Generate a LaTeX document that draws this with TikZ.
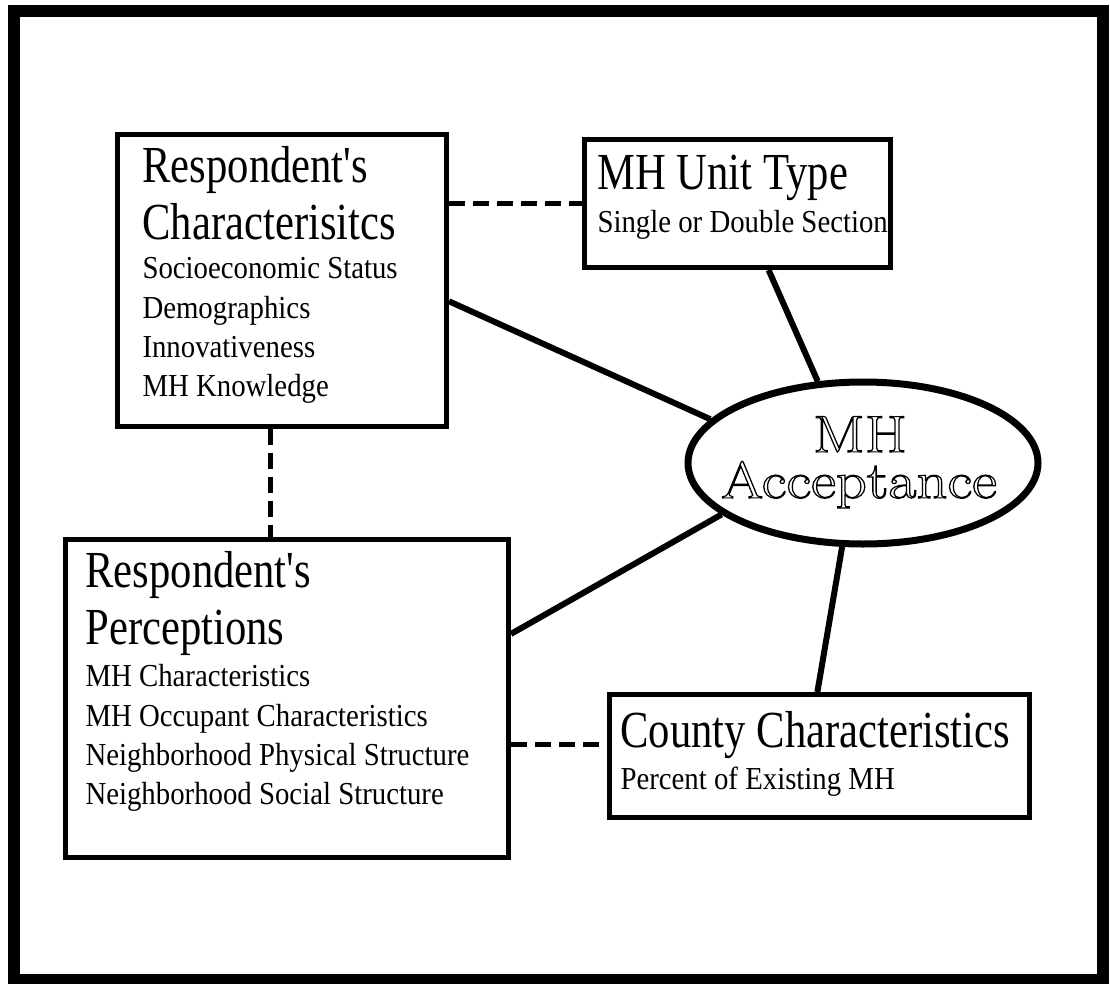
\documentclass[tikz,border=0pt]{standalone}
\usepackage{fontspec}
\usetikzlibrary{shapes.geometric,calc}
\newfontfamily\ttlfont[FakeStretch=0.82]{Liberation Serif}
\newfontfamily\subfont[FakeStretch=0.9]{Liberation Serif}
\newcommand\ttl[1]{{\ttlfont\fontsize{52pt}{57pt}\selectfont #1\par}}
\newcommand\subl[1]{{\subfont\fontsize{32pt}{39.3pt}\selectfont #1\par}}
\newcommand\boxtext[4]{\parbox[c][#2][t]{#1}{\leftskip=#3\relax\rightskip=0pt plus 1fil\parskip=0pt\hbadness=10000\hfuzz=200pt #4}}
\newcommand\outl[1]{\hbox to 0pt{\hss\scalebox{1.17}[1]{\special{pdf:literal direct q 1 Tr 1.1 w 0 G}#1\special{pdf:literal direct Q 0 Tr}}\hss}}
\tikzset{
  box/.style={draw, line width=5pt, inner sep=0pt, anchor=north west},
  link/.style={line width=6pt},
  dashlink/.style={line width=4.5pt, dash pattern=on 16pt off 8pt},
  oval/.style={ellipse, draw, line width=7pt, minimum width=350pt, minimum height=162pt, inner sep=0pt},
}
\begin{document}
\begin{tikzpicture}[x=1pt,y=-1pt]
\useasboundingbox (0,0) rectangle (1110,984);
\draw[line width=12pt] (14,11) rectangle (1103,980);

\node[box] (rc) at (115,132) {\boxtext{329pt}{292pt}{25pt}{%
  \ttl{\rule{0pt}{48pt}Respondent's}\ttl{Characterisitcs}%
  \subl{Socioeconomic Status}\subl{Demographics}\subl{Innovativeness}\subl{MH Knowledge}}};

\node[box] (mhu) at (582,137) {\boxtext{306pt}{128pt}{13pt}{%
  \ttl{\rule{0pt}{50pt}MH Unit Type}\vspace{4pt}%
  \subl{Single or Double Section}}};

\node[box] (rp) at (63,537) {\boxtext{443pt}{318pt}{20pt}{%
  \ttl{\rule{0pt}{48pt}Respondent's}\ttl{Perceptions}\vspace{3pt}%
  \subl{MH Characteristics}\subl{MH Occupant Characteristics}\subl{Neighborhood Physical Structure}\subl{Neighborhood Social Structure}}};

\node[box] (cc) at (607,692) {\boxtext{420pt}{123pt}{11pt}{%
  \ttl{\rule{0pt}{53pt}County Characteristics}\vspace{3pt}%
  \subl{Percent of Existing MH}}};

\node[oval] (el) at (863,463) {\makebox[0pt]{\raisebox{-35pt}[0pt][0pt]{\vbox{\fontsize{52pt}{46pt}\selectfont\baselineskip=46pt\lineskiplimit=-100pt
  \hbox to 0pt{\hskip-3pt\outl{MH}}\hbox to 0pt{\hskip-4pt\outl{Acceptance}}}}}};

\draw[link] ($(rc.north east)!0.57!(rc.south east)$) -- (el.164.8);
\draw[link] ($(rp.north east)!0.30!(rp.south east)$) -- (el.200);
\draw[link] ($(mhu.south west)!0.60!(mhu.south east)$) -- (el.119.4);
\draw[link] (el.256) -- ($(cc.north west)!0.495!(cc.north east)$);

\draw[dashlink] (rc.east |- mhu.west) -- (mhu.west);
\coordinate (rcb) at ($(rc.south west)!0.465!(rc.south east)$);
\draw[dashlink] (rcb) -- (rcb |- rp.north);
\coordinate (ccw) at ($(cc.north west)!0.41!(cc.south west)$);
\draw[dashlink] (rp.east |- ccw) -- (ccw);
\end{tikzpicture}
\end{document}
